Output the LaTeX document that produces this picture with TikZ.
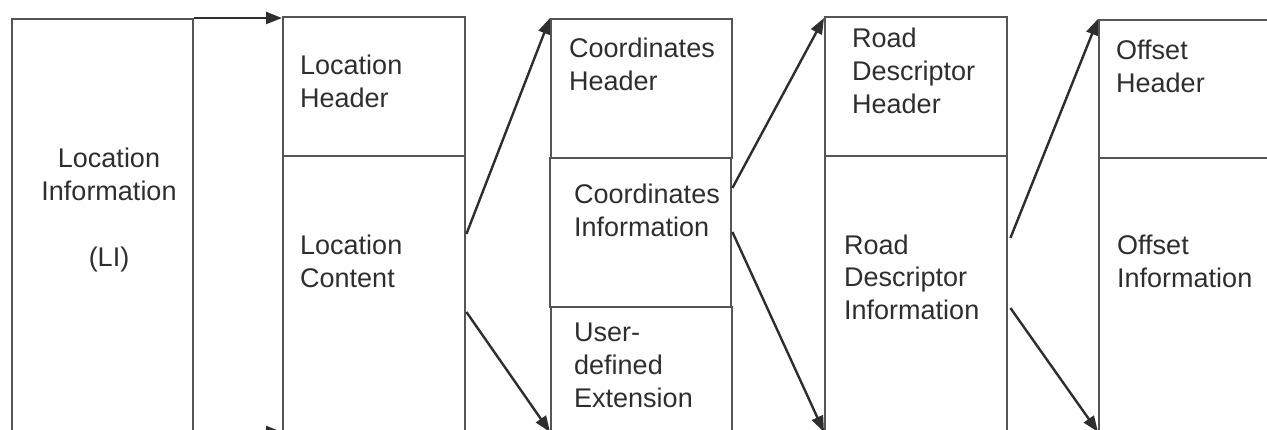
\documentclass[tikz,border=0pt]{standalone}
\usepackage{fontspec}
\setmainfont{Liberation Sans}
\usepackage{tikz}
\usetikzlibrary{positioning,
calc,
arrows.meta}
\definecolor{boxline}{HTML}{555555}
\definecolor{ink}{HTML}{2E2E2E}
\tikzstyle{Part} = [
draw=boxline, line width=2.4pt,
rectangle, inner sep=0pt,
anchor=north west
]
\tikzstyle{Label} = [
text=ink, inner sep=0pt, align=left,
font=\fontsize{27}{33}\selectfont,
anchor=base west
]
\tikzstyle{Arrow} = [
draw=ink, line width=2.4pt,
-{Triangle[length=16pt,width=12pt]}
]

\begin{document}
\begin{tikzpicture}[x=1pt, y=-1pt]
            \useasboundingbox (0,0) rectangle (1267,430);
            \clip (0,0) rectangle (1267,430);
            \node [Part, minimum width=181pt, minimum height=450pt] (li) at (11,18) {};
            \node [Part, minimum width=182pt, minimum height=139pt] (lh) at (282,16) {};
            \node [Part, minimum width=182pt, minimum height=300pt] (lc) at (282,155) {};
            \node [Part, minimum width=181pt, minimum height=139pt] (ch) at (550,18) {};
            \node [Part, minimum width=181pt, minimum height=149pt] (ci) at (549,157) {};
            \node [Part, minimum width=181pt, minimum height=150pt] (ce) at (550,306) {};
            \node [Part, minimum width=182pt, minimum height=139pt] (rh) at (824,16) {};
            \node [Part, minimum width=182pt, minimum height=300pt] (ri) at (824,155) {};
            \node [Part, minimum width=200pt, minimum height=138pt] (oh) at (1098,19) {};
            \node [Part, minimum width=200pt, minimum height=300pt] (oi) at (1098,157) {};

            % labels sit on the baseline of their last line
            \node [Label, align=center, anchor=base] (li-t) at (109,267) {Location\\Information\\[33pt](LI)};
            \node [Label] (lh-t) at (300,108) {Location\\Header};
            \node [Label] (lc-t) at (300,288) {Location\\Content};
            \node [Label] (ch-t) at (569,91) {Coordinates\\Header};
            \node [Label] (ci-t) at (574,237) {Coordinates\\Information};
            \node [Label] (ce-t) at (574,407) {User-\\defined\\Extension};
            \node [Label] (rh-t) at (852,114) {Road\\Descriptor\\Header};
            \node [Label] (ri-t) at (844,320) {Road\\Descriptor\\Information};
            \node [Label] (oh-t) at (1116,93) {Offset\\Header};
            \node [Label] (oi-t) at (1117,288) {Offset\\Information};

            \draw[Arrow] (li.north east) to (li.north east -| lh.west);
            \draw[Arrow] ($(li.north east)+(0,414)$) to ($(lc.north west)+(0,277)$);
            \draw[Arrow] ($(lc.north east)+(0,79)$) to (ch.north west);
            \draw[Arrow] ($(lc.north east)+(0,157)$) to ($(ce.north west)+(0,126)$);
            \draw[Arrow] ($(ci.north east)+(0,31)$) to ($(rh.north west)+(0,2)$);
            \draw[Arrow] ($(ci.north east)+(0,75)$) to ($(ri.north west)+(0,277)$);
            \draw[Arrow] ($(ri.north east)+(2,83)$) to (oh.north west);
            \draw[Arrow] ($(ri.north east)+(2,153)$) to ($(oi.north west)+(0,275)$);
        \end{tikzpicture}
\end{document}
